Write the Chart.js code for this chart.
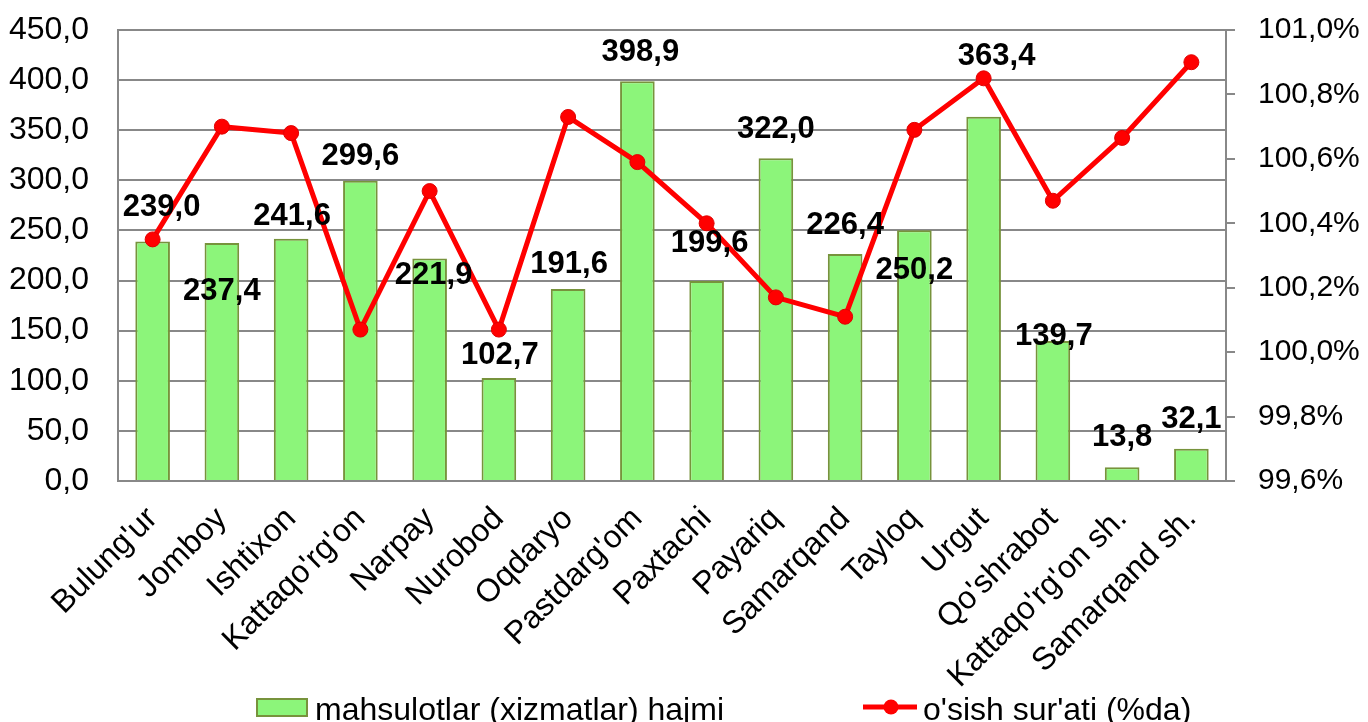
<!DOCTYPE html>
<html>
<head>
<meta charset="utf-8">
<script src="https://cdn.jsdelivr.net/npm/chart.js@4.4.1/dist/chart.umd.min.js"></script>
<style>
  html, body { margin: 0; padding: 0; background: #fff; }
  canvas { display: block; }
</style>
</head>
<body>
<canvas id="combo" width="1368" height="722"></canvas>
<script>
const districts = ["Bulung'ur", "Jomboy", "Ishtixon", "Kattaqo'rg'on", "Narpay", "Nurobod", "Oqdaryo",
  "Pastdarg'om", "Paxtachi", "Payariq", "Samarqand", "Tayloq", "Urgut", "Qo'shrabot",
  "Kattaqo'rg'on sh.", "Samarqand sh."];
const volume = [239.0, 237.4, 241.6, 299.6, 221.9, 102.7, 191.6, 398.9, 199.6, 322.0, 226.4, 250.2, 363.4, 139.7, 13.8, 32.1];
const growth = [100.35, 100.70, 100.68, 100.07, 100.50, 100.07, 100.73, 100.59, 100.40, 100.17, 100.11, 100.69, 100.85, 100.47, 100.665, 100.90];
const leftTicks = { min: 0, max: 450, step: 50 };
const rightTicks = { min: 99.6, max: 101.0, step: 0.2 };

// where excel put each value label, relative to the top of its bar (px)
const labelShiftX = [9, 0, 1, 0, 4, 1, 1, 3, 3, 0, 0, 0, 13, 1, 0, 0];
const labelShiftY = [-34, 48, -22, -24, 17, -23, -25, -29, -38, -29, -29, 40, -60, -5, -30, -29];

const FONT = "'Liberation Sans', Arial, sans-serif";
const GRID = '#888888';
const comma = (v, d) => v.toFixed(d).replace('.', ',');

const valueLabels = {
  id: 'valueLabels',
  afterDatasetsDraw(chart) {
    const ctx = chart.ctx;
    const bars = chart.getDatasetMeta(1).data;
    ctx.save();
    ctx.font = 'bold 31px ' + FONT;
    ctx.fillStyle = '#000';
    ctx.textAlign = 'center';
    ctx.textBaseline = 'middle';
    bars.forEach((bar, i) => {
      ctx.fillText(comma(volume[i], 1), bar.x + labelShiftX[i], bar.y + labelShiftY[i]);
    });
    ctx.restore();
  }
};

const bottomLegend = {
  id: 'bottomLegend',
  afterDraw(chart) {
    const ctx = chart.ctx;
    const bar = chart.data.datasets[1];
    const line = chart.data.datasets[0];
    const y = 707;
    ctx.save();
    ctx.fillStyle = bar.backgroundColor;
    ctx.strokeStyle = bar.borderColor;
    ctx.lineWidth = 2;
    ctx.fillRect(257, 699, 50, 17);
    ctx.strokeRect(257, 699, 50, 17);
    ctx.strokeStyle = line.borderColor;
    ctx.lineWidth = 5;
    ctx.beginPath();
    ctx.moveTo(863, y);
    ctx.lineTo(917, y);
    ctx.stroke();
    ctx.fillStyle = line.pointBackgroundColor;
    ctx.beginPath();
    ctx.arc(891, y, 7.5, 0, Math.PI * 2);
    ctx.fill();
    ctx.font = '32px ' + FONT;
    ctx.fillStyle = '#000';
    ctx.textAlign = 'left';
    ctx.textBaseline = 'alphabetic';
    ctx.fillText(bar.label, 315, 720);
    ctx.fillText(line.label, 923, 720);
    ctx.restore();
  }
};

function noEdgePadding(scale) {
  scale.paddingTop = 0;
  scale.paddingBottom = 0;
}

new Chart(document.getElementById('combo'), {
  data: {
    labels: districts,
    datasets: [
      {
        type: 'line',
        label: "o'sish sur'ati (%da)",
        data: growth,
        yAxisID: 'y1',
        borderColor: '#ff0000',
        borderWidth: 5,
        pointRadius: 7.5,
        pointBackgroundColor: '#ff0000',
        pointBorderColor: '#e00000',
        pointBorderWidth: 1,
        tension: 0,
        order: 0
      },
      {
        type: 'bar',
        label: 'mahsulotlar (xizmatlar) hajmi',
        data: volume,
        yAxisID: 'y',
        backgroundColor: '#8cf57a',
        borderColor: '#77933c',
        borderWidth: 2,
        barPercentage: 0.5,
        categoryPercentage: 1,
        order: 1
      }
    ]
  },
  options: {
    responsive: false,
    devicePixelRatio: 1,
    animation: false,
    layout: { padding: { top: 30, left: 0, right: 0, bottom: 0 } },
    plugins: {
      legend: { display: false },
      tooltip: { enabled: false }
    },
    scales: {
      x: {
        grid: { display: false },
        border: { display: true, color: GRID, width: 2 },
        ticks: {
          minRotation: 45,
          maxRotation: 45,
          color: '#000',
          padding: 11,
          font: { family: FONT, size: 32 }
        },
        afterFit(scale) { scale.height = 241; }
      },
      y: {
        position: 'left',
        min: leftTicks.min,
        max: leftTicks.max,
        grid: { color: GRID, lineWidth: 2, drawTicks: false },
        border: { display: true, color: GRID, width: 2 },
        ticks: {
          stepSize: leftTicks.step,
          padding: 29,
          color: '#000',
          font: { family: FONT, size: 32 },
          callback: (v) => comma(v, 1)
        },
        afterFit(scale) { scale.width = 118; noEdgePadding(scale); }
      },
      y1: {
        position: 'right',
        min: rightTicks.min,
        max: rightTicks.max,
        grid: { drawOnChartArea: false, color: GRID, lineWidth: 2, tickLength: 9 },
        border: { display: true, color: GRID, width: 2 },
        ticks: {
          stepSize: rightTicks.step,
          padding: 23,
          color: '#000',
          font: { family: FONT, size: 30 },
          callback: (v) => comma(v, 1) + '%'
        },
        afterFit(scale) { scale.width = 142; noEdgePadding(scale); }
      }
    }
  },
  plugins: [valueLabels, bottomLegend]
});
</script>
</body>
</html>
